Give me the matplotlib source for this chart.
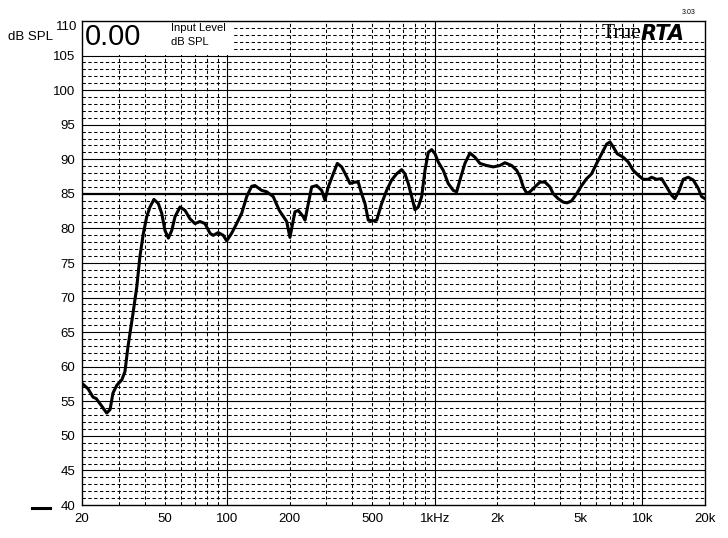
import numpy as np
import matplotlib
matplotlib.use("Agg")
import matplotlib.pyplot as plt
from matplotlib.patches import Rectangle

# ---- data ----
freq_hz = [20, 21.4, 22.6, 23.4, 24.9, 26.3, 27.3, 28.2, 29.4, 31.1, 32.2, 33.3, 35.2, 36.7,
           38.0, 39.5, 41.0, 42.5, 44.4, 46.6, 48.4, 50.2, 52.1, 54.1, 56.1, 59.3, 62.7,
           66.2, 70.0, 74.0, 78.2, 82.7, 85.7, 90.6, 95.8, 99.5, 105.1, 111.1, 117.5,
           124.2, 131.2, 136.1, 146.7, 155.0, 166.7, 178.3, 193.5, 200.6, 212.0, 220.0,
           232.6, 237.0, 245.8, 255.2, 269.8, 285.2, 295.8, 306.8, 324.2, 339.2, 356.0,
           376.2, 390.2, 412.6, 427.8, 444.4, 461.0, 478.2, 505.4, 524.8, 554.6, 586.2,
           619.6, 655.0, 692.2, 718.0, 744.8, 773.6, 802.4, 832.4, 864.4, 896.6, 930,
           965.8, 1002, 1039, 1098, 1160, 1227, 1274, 1321, 1396, 1476, 1560, 1649, 1776,
           1911, 2058, 2176, 2344, 2478, 2570, 2666, 2768, 2870, 3034, 3208, 3392, 3584,
           3718, 3930, 4154, 4342, 4558, 4818, 5092, 5384, 5688, 6014, 6356, 6720, 6970,
           7228, 7556, 8078, 8538, 9024, 9538, 10084, 10656, 11068, 11696, 12364, 13066,
           13812, 14328, 15028, 15712, 16600, 17548, 18550, 19258, 20000]
spl_db = [57.6, 56.8, 55.6, 55.4, 54.3, 53.3, 53.8, 56.2, 57.3, 58.1, 59.3, 62.9, 67.7, 71.5,
          75.9, 79.3, 81.7, 83.1, 84.2, 83.6, 82.2, 79.7, 78.6, 79.7, 81.7, 83.1, 82.6,
          81.4, 80.7, 81.0, 80.7, 79.3, 79.0, 79.4, 79.0, 78.2, 79.3, 80.7, 82.2, 84.6,
          86.1, 86.2, 85.5, 85.3, 84.6, 82.6, 81.0, 78.7, 82.4, 82.6, 81.7, 81.2, 83.6,
          86.0, 86.2, 85.5, 84.1, 86.0, 87.9, 89.4, 88.9, 87.5, 86.5, 86.7, 86.7, 85.0,
          83.6, 81.2, 81.1, 81.2, 83.6, 85.5, 87.0, 87.9, 88.5, 87.9, 86.5, 84.6, 82.7,
          83.1, 84.6, 88.4, 91.0, 91.4, 90.8, 89.6, 88.4, 86.5, 85.5, 85.3, 87.0, 89.4,
          90.9, 90.3, 89.4, 89.1, 88.9, 89.1, 89.5, 89.1, 88.4, 87.5, 86.0, 85.1, 85.3,
          86.0, 86.7, 86.7, 86.0, 85.0, 84.3, 83.8, 83.7, 84.0, 85.0, 86.2, 87.2, 87.9,
          89.4, 90.8, 92.2, 92.5, 91.8, 90.8, 90.3, 89.6, 88.4, 87.7, 87.1, 87.1, 87.4,
          87.1, 87.2, 86.0, 84.8, 84.3, 85.5, 87.1, 87.4, 87.0, 85.8, 84.6, 84.3]

x_ticks = [20, 50, 100, 200, 500, 1000, 2000, 5000, 10000, 20000]
x_tick_labels = ["20", "50", "100", "200", "500", "1kHz", "2k", "5k", "10k", "20k"]
y_ticks = list(range(40, 111, 5))

W, H = 728, 538
fig = plt.figure(figsize=(W / 100, H / 100), dpi=100)
fig.patch.set_facecolor("white")
L, R, T, B = 82, 705, 21, 505
ax = fig.add_axes([L / W, 1 - B / H, (R - L) / W, (B - T) / H])
ax.set_xscale("log")
ax.set_xlim(20, 20000)
ax.set_ylim(40, 110)

font = "Liberation Sans"
dash = (0, (3.2, 2.4))

# horizontal grid
for v in range(41, 110):
    if v % 5 == 0:
        lw = 1.6 if v == 85 else 0.8
        ax.axhline(v, color="black", lw=lw, zorder=1)
    else:
        ax.axhline(v, color="black", lw=0.75, ls=dash, zorder=1)

# vertical grid
for dec in [10, 100, 1000]:
    for m in range(2, 10):
        f = dec * m
        if f <= 20 or f >= 20000:
            continue
        ax.axvline(f, color="black", lw=0.75, ls=dash, zorder=1)
for f in [100, 1000, 10000]:
    ax.axvline(f, color="black", lw=0.8, zorder=1)

# header boxes
ax.add_patch(Rectangle((20, 105.1), 105.4 - 20, 5, facecolor="white", edgecolor="none", zorder=2))
ax.add_patch(Rectangle((9650, 107.5), 20000 - 9650, 2.6, facecolor="white", edgecolor="none", zorder=2))

ax.plot(freq_hz, spl_db, color="black", lw=2.2, zorder=3, solid_joinstyle="round")

ax.set_xticks(x_ticks)
ax.set_xticklabels(x_tick_labels)
ax.xaxis.set_minor_locator(matplotlib.ticker.NullLocator())
ax.set_yticks(y_ticks)
ax.set_yticklabels([str(v) if v != 110 else "" for v in y_ticks])
ax.tick_params(axis="both", length=0, labelsize=9.5, colors="black")
ax.tick_params(axis="x", pad=6)
ax.tick_params(axis="y", pad=5)
for lab in ax.get_xticklabels() + ax.get_yticklabels():
    lab.set_fontfamily(font)
for s in ax.spines.values():
    s.set_color("black")
    s.set_linewidth(1.0)
    s.set_zorder(4)

def fx(px):
    return px / W

def fy(py):
    return 1 - py / H

fig.text(fx(77), fy(27), "110", ha="right", va="center", fontsize=9.5, family=font)
fig.text(fx(8), fy(37), "dB SPL", ha="left", va="center", fontsize=9.5, family=font)
fig.text(fx(85), fy(37), "0.00", ha="left", va="center", fontsize=21, family=font)
fig.text(fx(171), fy(28), "Input Level", ha="left", va="center", fontsize=8, family=font)
fig.text(fx(171), fy(42), "dB SPL", ha="left", va="center", fontsize=8, family=font)
fig.text(fx(602), fy(34), "True", ha="left", va="center", fontsize=15.5, family="Liberation Serif")
fig.text(fx(641), fy(34), "RTA", ha="left", va="center", fontsize=15, family="DejaVu Sans",
         weight="bold", style="italic")
fig.text(fx(689), fy(13), "3.03", ha="center", va="center", fontsize=5, family=font)
fig.add_artist(plt.Line2D([fx(32), fx(50)], [fy(508), fy(508)], color="black", lw=2.2,
                          transform=fig.transFigure))

fig.savefig("out.png", dpi=100, facecolor="white")
